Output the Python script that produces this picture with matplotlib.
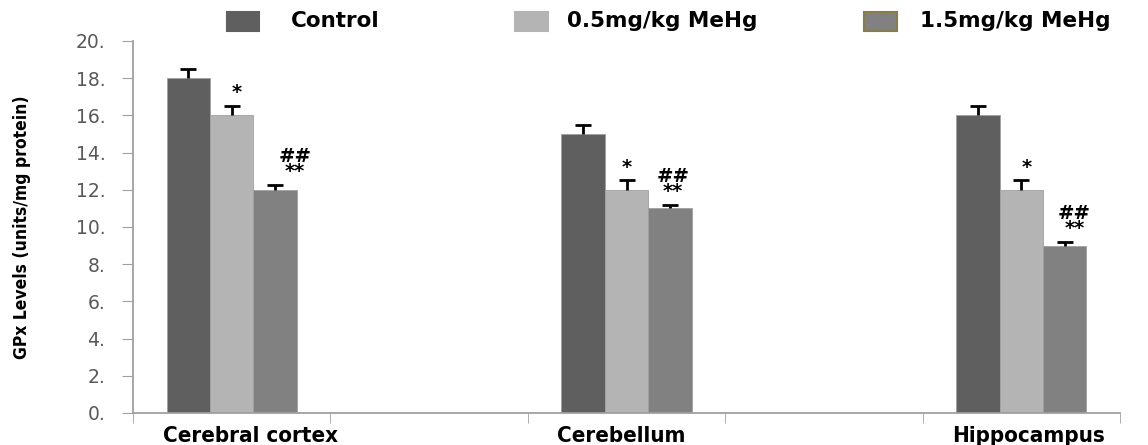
import matplotlib.pyplot as plt
from matplotlib.patches import Rectangle
import numpy as np

# GPx levels
regions = ['Cerebral cortex', 'Cerebellum', 'Hippocampus']
groups = ['Control', '0.5mg/kg MeHg', '1.5mg/kg MeHg']
control = [18, 15, 16]
low_dose = [16, 12, 12]
high_dose = [12, 11, 9]
control_err = [0.5, 0.5, 0.5]
low_err = [0.5, 0.5, 0.5]
high_err = [0.25, 0.2, 0.2]
low_marks = ['*', '*', '*']
high_marks = ['##\n**', '##\n**', '##\n**']
yticks = [0, 2, 4, 6, 8, 10, 12, 14, 16, 18, 20]
ytick_labels = ['0.', '2.', '4.', '6.', '8.', '10.', '12.', '14.', '16.', '18.', '20.']

colors = ['#5f5f5f', '#b4b4b4', '#818181']
edge3 = '#8a7d4a'
narrow = dict(family='DejaVu Sans', stretch='condensed', weight='bold')

fig = plt.figure(figsize=(11.48, 4.45), dpi=100)
ax = fig.add_axes([0.1159, 0.072, 0.8597, 0.836])

x = np.arange(len(regions)) * 2
w = 0.22
series = [(control, control_err), (low_dose, low_err), (high_dose, high_err)]
for i, (vals, errs) in enumerate(series):
    pos = x + (i - 1) * w
    ax.bar(pos, vals, w, color=colors[i], edgecolor='#a0a0a0', linewidth=0.6,
           zorder=2)
    _, caps, _ = ax.errorbar(pos, vals, yerr=[np.zeros(len(errs)), errs], fmt='none',
                             ecolor='black', elinewidth=2, capsize=6, capthick=2,
                             zorder=3)
    caps[0].remove()

# significance marks, nudged like in the original
star_dx = [0.025, 0.0, 0.03]
hash_dx = [0.1, 0.015, 0.05]
for j in range(len(regions)):
    ax.text(x[j] + star_dx[j], low_dose[j] + low_err[j] + 0.2, low_marks[j],
            ha='center', va='bottom', fontsize=14, fontweight='bold')
    ax.text(x[j] + w + hash_dx[j], high_dose[j] + high_err[j] + 0.2, high_marks[j],
            ha='center', va='bottom', fontsize=14, fontweight='bold', linespacing=0.75)
    ax.text(x[j] - 1.5 * w - 0.02, -0.7, regions[j], ha='left', va='top',
            fontsize=16, **narrow)

ax.set_xlim(-0.5, 4.5)
ax.set_ylim(0, 20)
ax.set_yticks(yticks)
ax.set_yticklabels(ytick_labels, color='#595959', fontsize=13.5)
ax.set_xticks([])
ax.set_xticks(np.arange(-0.5, 5.0, 1.0), minor=True)
ax.tick_params(axis='x', which='minor', length=7, color='#a0a0a0', direction='out')
ax.tick_params(axis='y', length=8, color='#a0a0a0', direction='out', pad=12)

for s in ['top', 'right']:
    ax.spines[s].set_visible(False)
for s in ['left', 'bottom']:
    ax.spines[s].set_color('#a0a0a0')
    ax.spines[s].set_linewidth(1.3)

ax.set_ylabel('GPx Levels (units/mg protein)', fontsize=12.5, labelpad=32, **narrow)

# legend drawn along the top as in the original
leg_sq = [(0.198, 0.9303), (0.449, 0.9303), (0.753, 0.9303)]
leg_tx = [0.253, 0.494, 0.801]
for i in range(3):
    fig.add_artist(Rectangle(leg_sq[i], 0.028, 0.043, transform=fig.transFigure,
                             facecolor=colors[i], edgecolor=edge3 if i == 2 else colors[i],
                             linewidth=1.5))
    fig.text(leg_tx[i], 0.952, groups[i], ha='left', va='center', fontsize=15.5,
             fontweight='bold')

fig.savefig('out.png', dpi=100)
